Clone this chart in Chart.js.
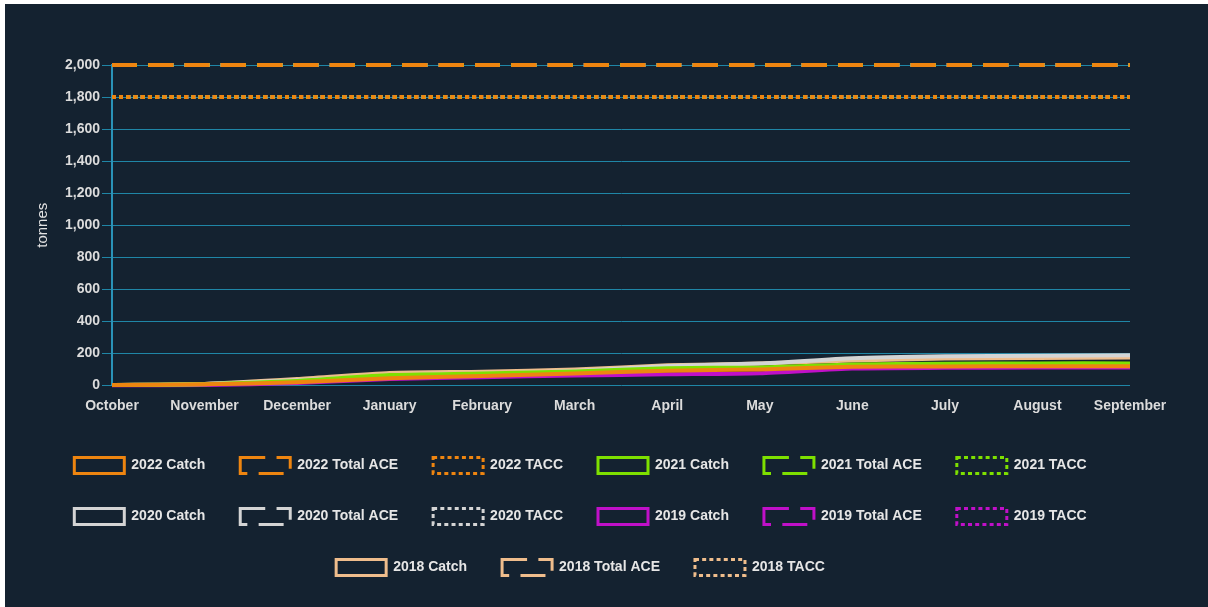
<!DOCTYPE html>
<html lang="en">
<head>
    <meta charset="UTF-8">
    <title>Catch vs ACE and TACC</title>
    <script src="https://cdn.jsdelivr.net/npm/chart.js"></script>
    <style>
        body { margin: 0; background: #ffffff; }
        #wrap { position: absolute; left: 5px; top: 4px; width: 1203px; height: 603px; background: #142230; }
    </style>
</head>
<body>
    <div id="wrap"><canvas id="catchChart"></canvas></div>

    <script>
        // Fishing year months
        var months = ['October', 'November', 'December', 'January', 'February', 'March',
                      'April', 'May', 'June', 'July', 'August', 'September'];

        // Cumulative catch (tonnes)
        var catch2022 = [3, 8, 20, 45, 60, 75, 92, 100, 117, 119, 120, 120];
        var catch2021 = [3, 8, 28, 65, 75, 88, 108, 113, 131, 136, 138, 138];
        var catch2020 = [3, 9, 32, 62, 74, 90, 122, 137, 170, 182, 186, 188];
        var catch2019 = [1, 3, 15, 40, 52, 62, 70, 77, 106, 110, 112, 113];
        var catch2018 = [3, 10, 40, 78, 86, 100, 126, 137, 156, 168, 172, 175];

        // Total ACE and TACC (same each year)
        var totalAce = [2000, 2000, 2000, 2000, 2000, 2000, 2000, 2000, 2000, 2000, 2000, 2000];
        var tacc = [1800, 1800, 1800, 1800, 1800, 1800, 1800, 1800, 1800, 1800, 1800, 1800];

        var years = ['2022', '2021', '2020', '2019', '2018'];
        var catches = [catch2022, catch2021, catch2020, catch2019, catch2018];
        var colours = ['#ee8510', '#7ee000', '#d4d4d4', '#c010c8', '#efbd8c'];

        var yTicks = [0, 200, 400, 600, 800, 1000, 1200, 1400, 1600, 1800, 2000];

        Chart.defaults.font.family = '"Liberation Sans", Arial, sans-serif';
        Chart.defaults.font.size = 14;
        Chart.defaults.font.weight = 'bold';
        Chart.defaults.color = '#e2e2e2';

        function makeSet(label, data, colour, dash) {
            return {
                label: label,
                data: data,
                borderColor: colour,
                backgroundColor: 'transparent',
                borderWidth: 4,
                borderDash: dash,
                pointRadius: 0,
                tension: 0.2,
                clip: 4,   // min/max are fixed, so don't cut the 2,000 and 0 lines in half
                fill: false
            };
        }

        var datasets = [];
        for (var i = 0; i < years.length; i++) {
            datasets.push(makeSet(years[i] + ' Catch', catches[i], colours[i], []));
            datasets.push(makeSet(years[i] + ' Total ACE', totalAce, colours[i], [25, 11.3]));
            datasets.push(makeSet(years[i] + ' TACC', tacc, colours[i], [4, 3.2]));
        }

        new Chart(document.getElementById('catchChart'), {
            type: 'line',
            data: { labels: months, datasets: datasets },
            options: {
                responsive: true,
                maintainAspectRatio: false,
                animation: false,
                layout: { padding: { top: 61, left: 26, right: 78, bottom: 21.5 } },
                plugins: {
                    tooltip: { enabled: false },
                    legend: {
                        position: 'bottom',
                        labels: {
                            boxWidth: 50,
                            boxHeight: 16,
                            padding: 35,
                            color: '#e6e6e6',
                            font: { size: 14, weight: 'bold' },
                            generateLabels: function (chart) {
                                var items = Chart.defaults.plugins.legend.labels.generateLabels(chart);
                                items.forEach(function (it) {
                                    it.lineWidth = 3;
                                    it.fillStyle = 'transparent';
                                });
                                return items;
                            }
                        }
                    }
                },
                scales: {
                    x: {
                        grid: { display: false, drawTicks: false },
                        border: { display: false },
                        ticks: { padding: 12.6, maxRotation: 0, autoSkip: false, color: '#dcdcdc' },
                        afterFit: function (scale) { scale.height -= 5; }
                    },
                    y: {
                        min: 0,
                        max: 2000,
                        afterBuildTicks: function (scale) {
                            scale.ticks = yTicks.map(function (v) { return { value: v }; });
                        },
                        grid: { color: '#1f86a6', tickLength: 10, lineWidth: 1 },
                        border: { color: '#2a93b8', width: 2 },
                        ticks: { padding: 2, color: '#dcdcdc' },
                        title: {
                            display: true,
                            text: 'tonnes',
                            color: '#e2e2e2',
                            font: { size: 15, weight: 'normal' },
                            padding: { top: 3, bottom: 2 }
                        },
                        afterFit: function (scale) { scale.width = 81; }
                    }
                }
            }
        });
    </script>
</body>
</html>
